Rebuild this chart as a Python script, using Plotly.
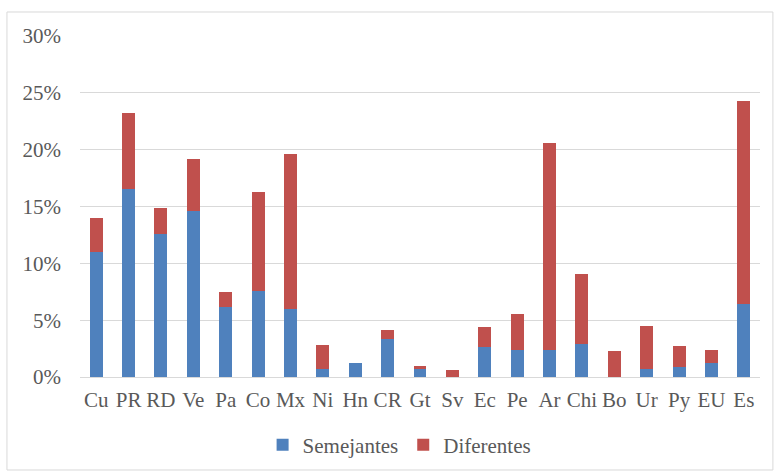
import plotly.graph_objects as go

categories = ["Cu", "PR", "RD", "Ve", "Pa", "Co", "Mx", "Ni", "Hn", "CR", "Gt",
              "Sv", "Ec", "Pe", "Ar", "Chi", "Bo", "Ur", "Py", "EU", "Es"]
semejantes = [11.0, 16.5, 12.6, 14.6, 6.2, 7.6, 6.0, 0.7, 1.2, 3.3, 0.7,
              0.0, 2.6, 2.4, 2.4, 2.9, 0.0, 0.7, 0.9, 1.2, 6.4]
diferentes = [3.0, 6.7, 2.3, 4.6, 1.3, 8.7, 13.6, 2.1, 0.0, 0.8, 0.3,
              0.6, 1.8, 3.1, 18.2, 6.2, 2.3, 3.8, 1.8, 1.2, 17.9]
y_ticks = [0, 5, 10, 15, 20, 25, 30]

sem = [v / 100 for v in semejantes]
dif = [v / 100 for v in diferentes]

font_family = "Liberation Serif, Times New Roman, serif"
text_color = "#595959"

fig = go.Figure()
fig.add_trace(go.Bar(x=categories, y=sem, name="Semejantes",
                     marker=dict(color="#4F81BD", line=dict(width=0))))
fig.add_trace(go.Bar(x=categories, y=dif, name="Diferentes",
                     marker=dict(color="#C0504D", line=dict(width=0))))

fig.update_layout(
    barmode="stack",
    bargap=0.6,
    width=774, height=471,
    margin=dict(l=80, r=14, t=36, b=94, autoexpand=False),
    paper_bgcolor="white",
    plot_bgcolor="white",
    font=dict(family=font_family, size=21, color=text_color),
    legend=dict(orientation="h", x=0.47, xanchor="center", y=-0.2, yanchor="middle",
                font=dict(family=font_family, size=21, color=text_color),
                traceorder="normal", itemwidth=30, tracegroupgap=0),
    xaxis=dict(showgrid=False, showline=False, ticks="", automargin=False,
               tickfont=dict(family=font_family, size=21, color=text_color),
               ticklabelstandoff=8),
    yaxis=dict(range=[0, 0.30], tickvals=[t / 100 for t in y_ticks],
               ticktext=[f"{t}%" for t in y_ticks], automargin=False,
               showgrid=True, gridcolor="#d9d9d9", gridwidth=1,
               zeroline=True, zerolinecolor="#d9d9d9", zerolinewidth=1,
               showline=False, ticks="",
               tickfont=dict(family=font_family, size=21, color=text_color),
               ticklabelstandoff=18),
    shapes=[dict(type="rect", xref="paper", yref="paper",
                 x0=-0.1074, x1=1.019, y0=-0.2727, y1=1.0704,
                 line=dict(color="#d9d9d9", width=1), fillcolor="rgba(0,0,0,0)",
                 layer="below")],
)

fig.write_html("out.html")
